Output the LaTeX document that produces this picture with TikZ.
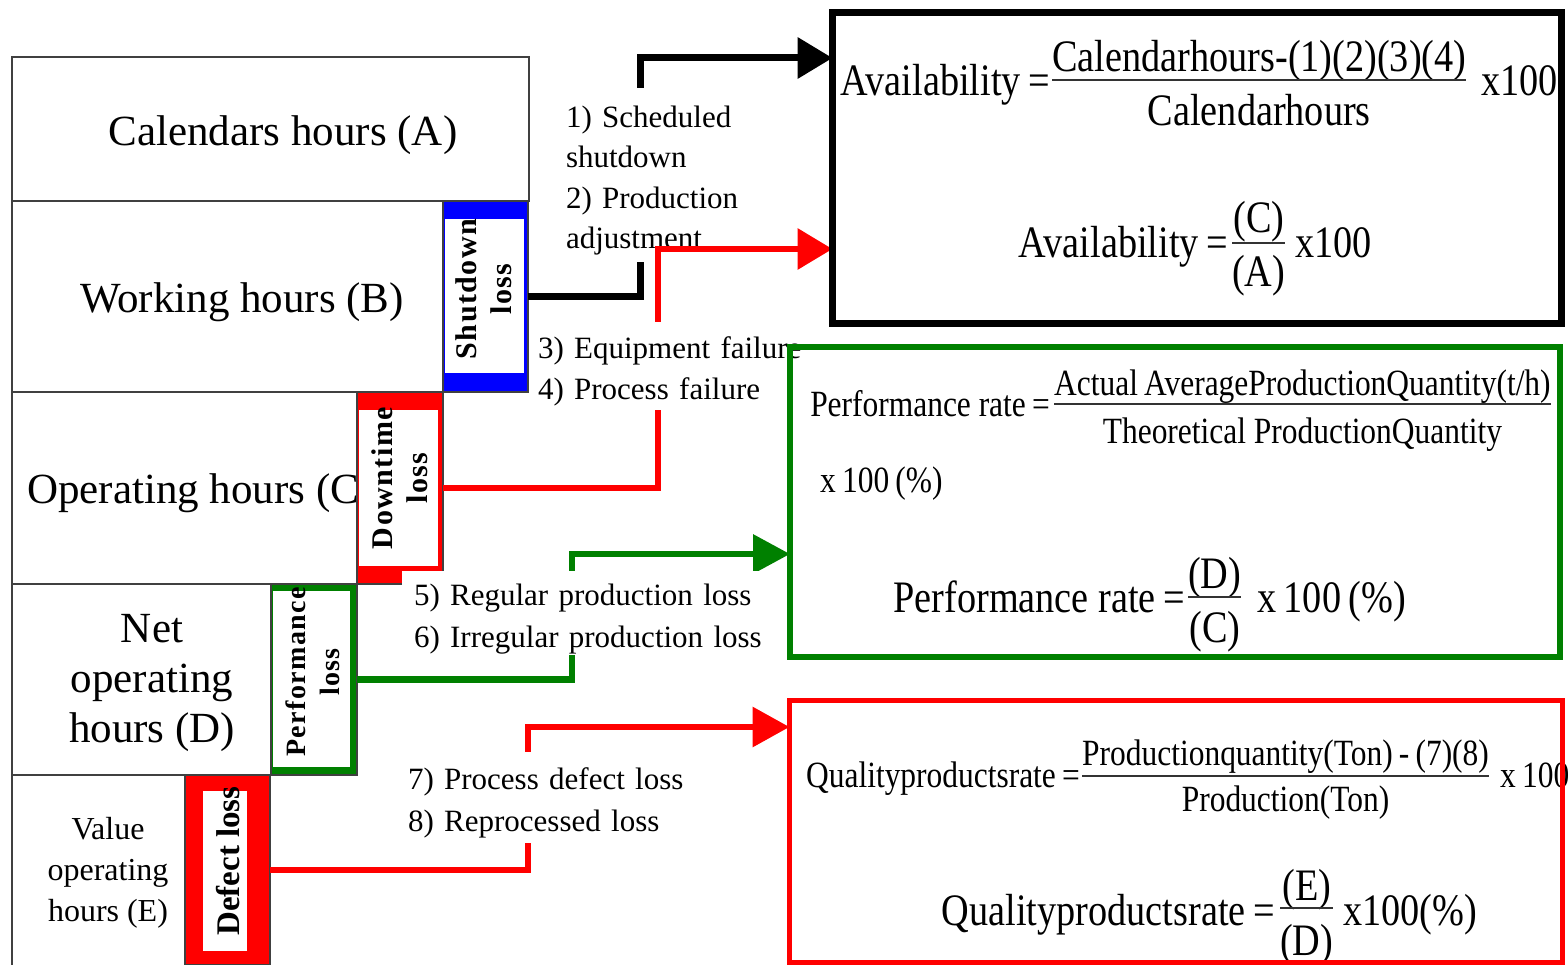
\documentclass[tikz,border=0pt]{standalone}
\usepackage{fontspec}
\setmainfont{Liberation Serif}
\newfontfamily\cond[FakeStretch=0.85]{Liberation Serif}
\newfontfamily\spaced[LetterSpace=5]{Liberation Serif}
\usetikzlibrary{arrows.meta}

\definecolor{lossblue}{RGB}{0,0,255}
\definecolor{lossred}{RGB}{255,0,0}
\definecolor{lossgreen}{RGB}{0,128,0}

% built-up fraction: numerator, denominator, numerator raise, denominator drop, bar height
\newdimen\fracwd
\newcommand\ffrac[5]{%
  \setbox0=\hbox{#1}\setbox2=\hbox{#2}%
  \fracwd=\wd0 \ifdim\wd2>\fracwd \fracwd=\wd2\fi
  \hbox{\rlap{\hbox to\fracwd{\hss\raise#3\box0\hss}}%
        \rlap{\hbox to\fracwd{\hss\lower#4\box2\hss}}%
        {\color{black!80}\vrule width\fracwd height\dimexpr#5+1pt\relax depth\dimexpr-#5+1pt\relax}}}

% tall first line, so the list sits a little low in its white patch
\newcommand\toprow{\rule{0pt}{33pt}}

\tikzset{
  hourbox/.style={draw=black!75, line width=1.3pt, inner sep=0pt, outer sep=0pt},
  hourtext/.style={inner sep=0pt, align=center, font=\fontsize{43}{50}\selectfont},
  lossbox/.style={draw=black!75, line width=1.3pt, inner sep=0pt, outer sep=0pt},
  losstext/.style={rotate=90, inner sep=0pt, align=center, font=\spaced\bfseries\fontsize{30}{35}\selectfont},
  conn/.style={line width=6.5pt, line join=miter},
  lab/.style={fill=white, align=left, inner ysep=0pt, font=\fontsize{31}{40.5}\selectfont},
  fbox/.style={inner sep=0pt, outer sep=0pt},
  fbig/.style={inner sep=0pt, font=\cond\fontsize{45}{54}\selectfont},
  fsmall/.style={inner sep=0pt, font=\cond\fontsize{37}{44}\selectfont},
}

\begin{document}
\begin{tikzpicture}[x=1pt,y=-1pt]
\useasboundingbox (0,0) rectangle (1568,965);
\clip (0,0) rectangle (1568,965);

% time blocks, stepping down
\node[hourbox, minimum width=517pt, minimum height=144pt, anchor=north west] (A) at (12,57) {};
\node[hourbox, minimum width=431pt, minimum height=191pt, anchor=north west] (B) at (12,201) {};
\node[hourbox, minimum width=345pt, minimum height=192pt, anchor=north west] (C) at (12,392) {};
\node[hourbox, minimum width=259pt, minimum height=191pt, anchor=north west] (D) at (12,584) {};
\node[hourbox, minimum width=173pt, minimum height=195pt, anchor=north west] (E) at (12,775) {};

\node[hourtext] (tA) at (283,135) {Calendars hours (A)};
\node[hourtext] (tB) at (242,302) {Working hours (B)};
\node[hourtext, anchor=west] (tC) at (27,493) {Operating hours (C)};
\node[hourtext] (tD) at (152,683) {Net\\operating\\hours (D)};
\node[hourtext, font=\fontsize{32}{41}\selectfont] (tE) at (108,873) {Value\\operating\\hours (E)};

% loss blocks
\node[lossbox, fill=lossblue, minimum width=85pt, minimum height=191pt, anchor=north west] (shut) at (443,201) {};
\fill[white] (445,219) rectangle (524,373);
\node[losstext] (lsS) at (484,289) {Shutdown\\loss};

\node[lossbox, fill=lossred, minimum width=86pt, minimum height=192pt, anchor=north west] (down) at (357,392) {};
\fill[white] (359,410) rectangle (438,566);
\node[losstext] (lsD) at (400,478) {Downtime\\loss};

\node[lossbox, fill=lossgreen, minimum width=86pt, minimum height=191pt, anchor=north west] (perf) at (271,584) {};
\fill[white] (273,591) rectangle (350,767);
\node[losstext, font=\spaced\bfseries\fontsize{28}{34}\selectfont] (lsP) at (313,672) {Performance\\loss};

\node[lossbox, fill=lossred, minimum width=85pt, minimum height=190pt, anchor=north west] (defect) at (185,775) {};
\fill[white] (203,791) rectangle (247,951);
\node[losstext, font=\bfseries\fontsize{33}{38}\selectfont] (lsX) at (228,861) {Defect loss};

% formula frames (anchors only here, drawn last)
\path (832.5,12.5) node[fbox, minimum width=729pt, minimum height=311pt, anchor=north west] (avail) {};
\path (790,347) node[fbox, minimum width=770pt, minimum height=310pt, anchor=north west] (perfbox) {};
\path (789.5,700.5) node[fbox, minimum width=773pt, minimum height=261.5pt, anchor=north west] (qualbox) {};

% bend points of the connectors
\coordinate (k1) at (640,58);
\coordinate (k2) at (658,249);
\coordinate (k3) at (572,554);
\coordinate (k4) at (528,727);

% connectors with their loss lists
\draw[conn, black, line width=7pt, -{Triangle[length=35pt,width=40pt]}] (shut.east) -| (k1) -- (avail.west |- k1);
\node[lab, text width=180pt, minimum height=174pt, inner xsep=4pt] (l12) at (656,175)
  {\toprow 1) Scheduled\\shutdown\\2) Production\\adjustment};

\draw[conn, lossred, -{Triangle[length=35pt,width=40pt]}] (down.east) -| (k2) -- (avail.west |- k2);
\node[lab, text width=270pt, minimum height=88pt, inner xsep=3pt] (l34) at (673,366)
  {\toprow 3) Equipment failure\\4) Process failure};

\draw[conn, lossgreen, -{Triangle[length=37pt,width=38pt]}] (perf.east) -| (k3) -- (perfbox.west |- k3);
\node[lab, text width=352pt, minimum height=84pt, inner xsep=12pt, font=\fontsize{31}{42}\selectfont] (l56) at (590,613)
  {\toprow 5) Regular production loss\\6) Irregular production loss};

\draw[conn, lossred, -{Triangle[length=37pt,width=39pt]}] (defect.east) -| (k4) -- (qualbox.west |- k4);
\node[lab, text width=280pt, minimum height=91pt, inner xsep=4pt, font=\fontsize{31}{42}\selectfont] (l78) at (548,797)
  {\toprow 7) Process defect loss\\8) Reprocessed loss};

% availability formulas
\node[fbig, anchor=base east] (f1l) at (1050,96) {Availability\,=};
\node[fbig, anchor=base west] (f1f) at (1052,96)
  {\ffrac{Calendarhours-(1)(2)(3)(4)}{Calendarhours}{24pt}{30pt}{16pt}};
\node[fbig, anchor=base west] (f1r) at (1481,96) {x100};

\node[fbig, anchor=base east] (f2l) at (1228,258) {Availability\,=};
\node[fbig, anchor=base west] (f2f) at (1232,258) {\ffrac{(C)}{(A)}{25pt}{29pt}{15pt}};
\node[fbig, anchor=base west] (f2r) at (1295,258) {x100};

% performance formulas
\node[fsmall, anchor=base east] (f3l) at (1050,416) {Performance rate\,=};
\node[fsmall, anchor=base west] (f3f) at (1054,416)
  {\ffrac{Actual\,AverageProductionQuantity(t/h)}{Theoretical ProductionQuantity}{21pt}{27pt}{12pt}};
\node[fsmall, anchor=base west] (f3r) at (820,492) {x\,100\,(\%)};

\node[fbig, anchor=base east] (f4l) at (1185,612) {Performance rate\,=};
\node[fbig, anchor=base west] (f4f) at (1188,612) {\ffrac{(D)}{(C)}{24pt}{30pt}{15pt}};
\node[fbig, anchor=base west] (f4r) at (1257,612) {x\,100\,(\%)};

% quality formulas
\node[fsmall, anchor=base east] (f5l) at (1080,787) {Qualityproductsrate\,=};
\node[fsmall, anchor=base west] (f5f) at (1082,787)
  {\ffrac{Productionquantity(Ton)\,-\,(7)(8)}{Production(Ton)}{22pt}{24pt}{11pt}};
\node[fsmall, anchor=base west] (f5r) at (1500,787) {x\,100};

\node[fbig, anchor=base east] (f6l) at (1275,925) {Qualityproductsrate\,=};
\node[fbig, anchor=base west] (f6f) at (1280,925) {\ffrac{(E)}{(D)}{25pt}{30pt}{17pt}};
\node[fbig, anchor=base west] (f6r) at (1343,925) {x100(\%)};

% formula frames
\draw[black, line width=7pt] (avail.north west) rectangle (avail.south east);
\draw[lossgreen, line width=6pt] (perfbox.north west) rectangle (perfbox.south east);
\draw[lossred, line width=5pt] (qualbox.north west) rectangle (qualbox.south east);
\end{tikzpicture}
\end{document}
